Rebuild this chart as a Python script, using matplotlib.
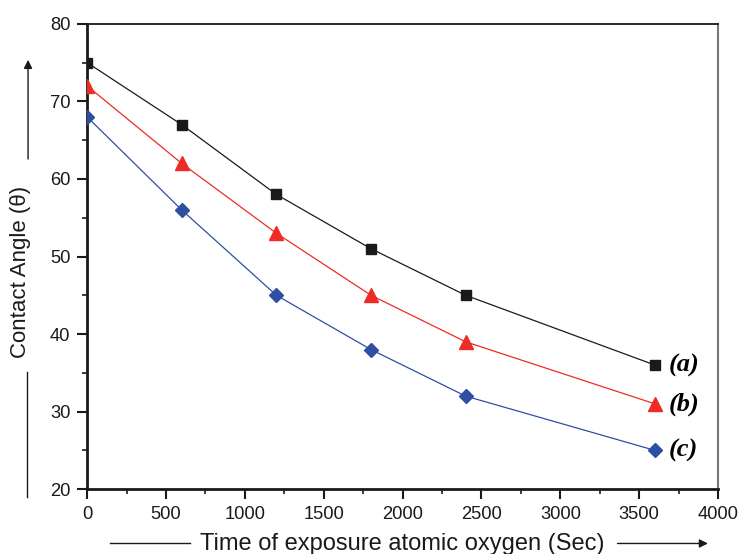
import matplotlib
matplotlib.use("Agg")
import matplotlib.pyplot as plt
from matplotlib.ticker import MultipleLocator

# Exposure time (s) and contact angle (deg) for three samples
time_sec = [0, 600, 1200, 1800, 2400, 3600]
angle_a = [75, 67, 58, 51, 45, 36]
angle_b = [72, 62, 53, 45, 39, 31]
angle_c = [68, 56, 45, 38, 32, 25]
series_labels = ["(a)", "(b)", "(c)"]

x_ticks = [0, 500, 1000, 1500, 2000, 2500, 3000, 3500, 4000]
y_ticks = [20, 30, 40, 50, 60, 70, 80]

plt.rcParams["font.family"] = ["Liberation Sans", "DejaVu Sans"]

fig = plt.figure(figsize=(7.38, 5.54), dpi=100)
ax = fig.add_axes([0.118, 0.117, 0.855, 0.840])

styles = [
    (angle_a, "#1a1a1a", "s", 7.5),
    (angle_b, "#ee2b24", "^", 10),
    (angle_c, "#2f4fa2", "D", 7.5),
]
for vals, col, mk, ms in styles:
    ax.plot(time_sec, vals, color=col, lw=0.9, marker=mk, markersize=ms,
            markerfacecolor=col, markeredgecolor=col, zorder=3)

# series tags next to the last point
for vals, lab in zip([angle_a, angle_b, angle_c], series_labels):
    ax.annotate(lab, xy=(time_sec[-1], vals[-1]), xytext=(10, 0),
                textcoords="offset points", va="center", ha="left",
                fontsize=19, fontweight="bold", fontstyle="italic",
                family="Liberation Serif")

ax.set_xlim(0, 4000)
ax.set_ylim(20, 80)
ax.set_xticks(x_ticks)
ax.set_yticks(y_ticks)
ax.xaxis.set_minor_locator(MultipleLocator(250))
ax.yaxis.set_minor_locator(MultipleLocator(5))
ax.tick_params(which="major", direction="out", length=7, width=1.5,
               labelsize=13.2, colors="#1a1a1a", pad=5)
ax.tick_params(which="minor", direction="out", length=3.6, width=1.2,
               colors="#1a1a1a")
ax.tick_params(top=False, right=False, which="both")

for side in ["left", "bottom"]:
    ax.spines[side].set_linewidth(2.0)
    ax.spines[side].set_color("#1a1a1a")
ax.spines["top"].set_linewidth(1.3)
ax.spines["top"].set_color("#1a1a1a")
ax.spines["right"].set_linewidth(1.5)
ax.spines["right"].set_color("#777777")

# axis titles with direction arrows
fig.text(0.028, 0.509, "Contact Angle (\u03b8)", rotation=90, ha="center",
         va="center", fontsize=16, color="#1a1a1a")
fig.add_artist(plt.Line2D([0.0365, 0.0365], [0.103, 0.328], color="#1a1a1a", lw=1.0))
fig.patches.append(matplotlib.patches.FancyArrowPatch(
    (0.038, 0.708), (0.038, 0.897), transform=fig.transFigure,
    arrowstyle="-|>,head_length=5,head_width=2.5", color="#1a1a1a", lw=1.0))

fig.text(0.545, 0.018, "Time of exposure atomic oxygen (Sec)", ha="center",
         va="center", fontsize=17, color="#1a1a1a")
fig.add_artist(plt.Line2D([0.149, 0.258], [0.019, 0.019], color="#1a1a1a", lw=1.0))
fig.patches.append(matplotlib.patches.FancyArrowPatch(
    (0.833, 0.019), (0.963, 0.019), transform=fig.transFigure,
    arrowstyle="-|>,head_length=5,head_width=2.5", color="#1a1a1a", lw=1.0))

fig.savefig("out.png", dpi=100)
